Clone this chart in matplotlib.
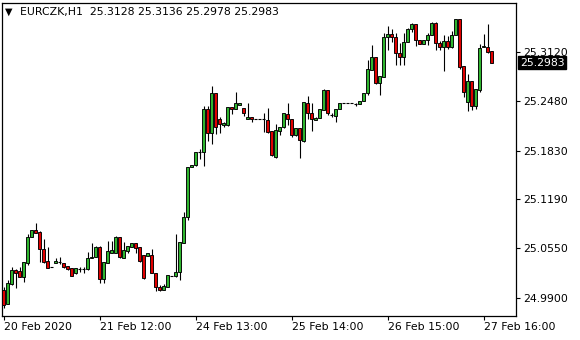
import matplotlib
matplotlib.use("Agg")
import matplotlib.pyplot as plt
from matplotlib.transforms import blended_transform_factory

# ---- data (EURCZK, H1) ----
opens = [25.0005, 24.9822, 25.0084, 25.0267, 25.0254, 25.0175, 25.0359, 25.0699, 25.0791, 25.0764,
         25.0542, 25.0385, 25.0306, 25.0359, 25.0372, 25.0359, 25.0319, 25.0293, 25.0228, 25.0280,
         25.0280, 25.0280, 25.0424, 25.0437, 25.0568, 25.0149, 25.0359, 25.0490, 25.0490, 25.0699,
         25.0424, 25.0516, 25.0568, 25.0620, 25.0568, 25.0463, 25.0450, 25.0463, 25.0228, 25.0045,
         25.0005, 25.0045, 25.0188, 25.0188, 25.0241, 25.0620, 25.0961, 25.1615, 25.1641, 25.1811,
         25.1811, 25.2374, 25.2060, 25.2584, 25.2243, 25.2165, 25.2165, 25.2400, 25.2374, 25.2427,
         25.2387, 25.2243, 25.2270, 25.2243, 25.2243, 25.2243, 25.2230, 25.2086, 25.1746, 25.2086,
         25.2139, 25.2309, 25.2243, 25.2034, 25.2126, 25.1955, 25.2453, 25.2322, 25.2230, 25.2257,
         25.2361, 25.2623, 25.2296, 25.2283, 25.2374, 25.2453, 25.2453, 25.2453, 25.2440, 25.2440,
         25.2479, 25.2584, 25.2885, 25.3055, 25.2715, 25.2793, 25.3317, 25.3356, 25.3317, 25.3107,
         25.3055, 25.3251, 25.3421, 25.3487, 25.3277, 25.3225, 25.3277, 25.3343, 25.3500, 25.3238,
         25.3186, 25.3264, 25.3186, 25.3343, 25.3552, 25.2937, 25.2466, 25.2741, 25.2414, 25.2623,
         25.3186, 25.3186, 25.3128]
highs = [25.0045, 25.0136, 25.0306, 25.0280, 25.0306, 25.0372, 25.0738, 25.0791, 25.0882, 25.0777,
         25.0673, 25.0568, 25.0306, 25.0424, 25.0437, 25.0359, 25.0319, 25.0293, 25.0293, 25.0306,
         25.0306, 25.0503, 25.0620, 25.0581, 25.0581, 25.0372, 25.0647, 25.0647, 25.0712, 25.0699,
         25.0634, 25.0581, 25.0620, 25.0620, 25.0568, 25.0463, 25.0490, 25.0542, 25.0228, 25.0071,
         25.0084, 25.0202, 25.0188, 25.0738, 25.0634, 25.1026, 25.1615, 25.1641, 25.1811, 25.1851,
         25.2414, 25.2414, 25.2675, 25.2584, 25.2270, 25.2204, 25.2400, 25.2400, 25.2597, 25.2453,
         25.2387, 25.2453, 25.2270, 25.2243, 25.2243, 25.2322, 25.2387, 25.2086, 25.2178, 25.2139,
         25.2322, 25.2453, 25.2243, 25.2126, 25.2126, 25.2466, 25.2544, 25.2453, 25.2270, 25.2374,
         25.2636, 25.2623, 25.2322, 25.2374, 25.2453, 25.2453, 25.2453, 25.2453, 25.2453, 25.2479,
         25.2584, 25.3016, 25.3212, 25.3055, 25.2806, 25.3369, 25.3461, 25.3421, 25.3369, 25.3238,
         25.3369, 25.3435, 25.3500, 25.3487, 25.3277, 25.3277, 25.3369, 25.3513, 25.3513, 25.3264,
         25.3343, 25.3330, 25.3395, 25.3552, 25.3552, 25.2937, 25.2832, 25.2741, 25.2636, 25.3225,
         25.3356, 25.3487, 25.3136]
lows = [24.9770, 24.9822, 25.0071, 25.0031, 25.0175, 25.0110, 25.0332, 25.0699, 25.0751, 25.0372,
        25.0359, 25.0293, 25.0306, 25.0359, 25.0346, 25.0293, 25.0267, 25.0188, 25.0215, 25.0241,
        25.0228, 25.0267, 25.0424, 25.0437, 25.0097, 25.0097, 25.0359, 25.0490, 25.0490, 25.0424,
        25.0424, 25.0490, 25.0568, 25.0490, 25.0372, 25.0149, 25.0450, 25.0228, 24.9992, 24.9992,
        25.0005, 25.0045, 25.0188, 25.0175, 25.0136, 25.0620, 25.0921, 25.1615, 25.1628, 25.1720,
        25.1628, 25.1955, 25.1916, 25.2047, 25.2060, 25.2139, 25.2152, 25.2309, 25.2374, 25.2427,
        25.2283, 25.2243, 25.2204, 25.2243, 25.2243, 25.2073, 25.2060, 25.1759, 25.1733, 25.2034,
        25.2126, 25.2165, 25.2008, 25.2021, 25.1733, 25.1942, 25.2243, 25.2086, 25.2230, 25.2257,
        25.2361, 25.2296, 25.2270, 25.2204, 25.2374, 25.2453, 25.2453, 25.2453, 25.2414, 25.2440,
        25.2479, 25.2558, 25.2885, 25.2701, 25.2558, 25.2793, 25.3147, 25.3251, 25.2950, 25.2950,
        25.2950, 25.3251, 25.3382, 25.3199, 25.3225, 25.3225, 25.3212, 25.3343, 25.3147, 25.3147,
        25.2872, 25.3160, 25.3173, 25.3343, 25.2898, 25.2531, 25.2348, 25.2361, 25.2374, 25.2597,
        25.3186, 25.3107, 25.2978]
closes = [24.9809, 25.0097, 25.0267, 25.0228, 25.0175, 25.0372, 25.0699, 25.0791, 25.0751, 25.0542,
          25.0372, 25.0293, 25.0306, 25.0385, 25.0372, 25.0306, 25.0280, 25.0188, 25.0293, 25.0280,
          25.0280, 25.0424, 25.0437, 25.0568, 25.0149, 25.0372, 25.0516, 25.0529, 25.0699, 25.0437,
          25.0529, 25.0581, 25.0620, 25.0555, 25.0385, 25.0162, 25.0490, 25.0228, 25.0045, 25.0005,
          25.0058, 25.0202, 25.0188, 25.0241, 25.0634, 25.0961, 25.1615, 25.1641, 25.1811, 25.1811,
          25.2374, 25.2060, 25.2584, 25.2139, 25.2178, 25.2191, 25.2400, 25.2374, 25.2453, 25.2453,
          25.2322, 25.2270, 25.2243, 25.2243, 25.2243, 25.2243, 25.2073, 25.1772, 25.2099, 25.2139,
          25.2322, 25.2243, 25.2034, 25.2126, 25.1969, 25.2466, 25.2322, 25.2243, 25.2257, 25.2374,
          25.2623, 25.2322, 25.2296, 25.2374, 25.2453, 25.2453, 25.2453, 25.2453, 25.2440, 25.2479,
          25.2584, 25.2898, 25.3055, 25.2715, 25.2806, 25.3317, 25.3356, 25.3317, 25.3107, 25.3055,
          25.3251, 25.3421, 25.3487, 25.3277, 25.3225, 25.3277, 25.3343, 25.3500, 25.3238, 25.3186,
          25.3264, 25.3186, 25.3343, 25.3552, 25.2924, 25.2597, 25.2741, 25.2414, 25.2636, 25.3173,
          25.3199, 25.3120, 25.2983]

ytick_vals = [24.9900, 25.0550, 25.1190, 25.1830, 25.2480, 25.3120]
xtick_bars = [0, 24, 48, 72, 96, 120]
xtick_labels = ["20 Feb 2020", "21 Feb 12:00", "24 Feb 13:00", "25 Feb 14:00",
                "26 Feb 15:00", "27 Feb 16:00"]
symbol = "EURCZK,H1"
last_bar = "25.3128 25.3136 25.2978 25.2983"

BULL = "#2fb52f"
BEAR = "#e00000"

W, H = 580, 340
fig = plt.figure(figsize=(W / 100, H / 100), dpi=100)
fig.patch.set_facecolor("white")
ax = fig.add_axes([2 / W, (H - 316) / H, (516 - 2) / W, (316 - 3) / H])

n = len(opens)
xs = list(range(n))
bw = 0.62
for i in xs:
    o, h, l, c = opens[i], highs[i], lows[i], closes[i]
    ax.vlines(i, l, h, color="black", lw=0.8, zorder=2)
    if abs(c - o) < 1e-9:
        ax.hlines(o, i - bw / 2, i + bw / 2, color="black", lw=0.8, zorder=3)
    else:
        col = BULL if c > o else BEAR
        ax.bar(i, abs(c - o), bottom=min(o, c), width=bw, color=col,
               edgecolor="black", linewidth=0.65, zorder=3)

ax.set_xlim(-0.4, 128.1)
ax.set_ylim(24.9665, 25.3762)

for s in ax.spines.values():
    s.set_color("black")
    s.set_linewidth(0.9)

ax.yaxis.tick_right()
ax.set_yticks(ytick_vals)
ax.set_yticklabels([f"{v:.4f}" for v in ytick_vals])
ax.set_xticks(xtick_bars)
ax.set_xticklabels(xtick_labels, ha="left")
ax.tick_params(axis="both", direction="out", length=3, width=0.8, colors="black",
               labelsize=7.8, pad=2)
ax.tick_params(axis="x", pad=1.5)

# current price label
tr = blended_transform_factory(ax.transAxes, ax.transData)
ax.text(1.0 + 4 / 514, closes[-1], f"{closes[-1]:.4f}", transform=tr, ha="left", va="center",
        color="white", fontsize=7.8,
        bbox=dict(boxstyle="square,pad=0.15", fc="black", ec="black"), zorder=5, clip_on=False)

# header
fig.text(5 / W, 1 - 12 / H, "\u25BC", fontsize=7, va="center", ha="left", color="black")
fig.text(20 / W, 1 - 12 / H, f"{symbol}  {last_bar}", fontsize=7.8, va="center", ha="left",
         color="black")

fig.savefig("out.png", dpi=100)
